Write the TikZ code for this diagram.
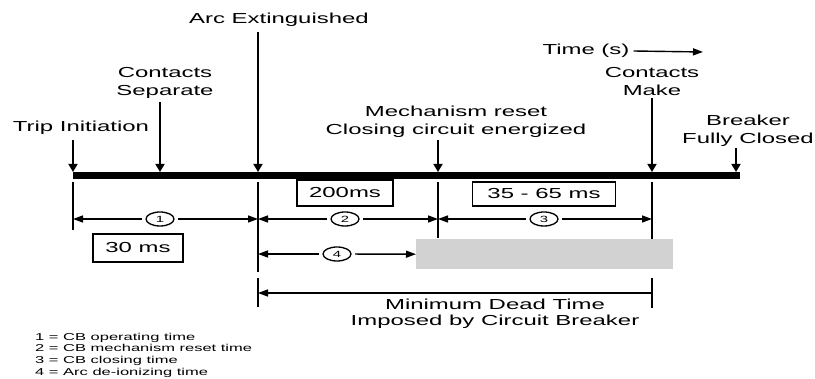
\documentclass[tikz,border=0pt]{standalone}
\usepackage{fontspec}
\setmainfont{Liberation Sans}[FakeStretch=1.65]
\usetikzlibrary{arrows.meta,shapes.geometric}
\definecolor{deadgray}{RGB}{210,210,210}

\begin{document}
\begin{tikzpicture}[
      x=1pt, y=-1pt,
      every node/.style={font=\fontsize{14.5}{18}\selectfont, inner sep=0pt},
      label/.style={align=center},
      event/.style={-{Triangle[width=9pt,length=8pt]}, line width=1.6pt},
      tick/.style={line width=1.6pt},
      dim/.style={-{Triangle[width=7pt,length=10pt]}, line width=1.4pt},
      num/.style={ellipse, draw, line width=1.3pt, minimum width=28pt, minimum height=14pt, outer sep=4pt, font=\fontsize{9}{10}\selectfont},
      msbox/.style={draw, line width=1.5pt, minimum height=26pt},
      timebar/.style={line width=7pt}
    ]
    \useasboundingbox (0,0) rectangle (815,379);

    % Event labels above the time bar
    \node[label] (trip) at (81,128) {Trip Initiation};
    \node[label] (sep) at (165,83) {Contacts\\Separate};
    \node[label] (arc) at (279,20) {Arc Extinguished};
    \node[label] (mech) at (456,122) {Mechanism reset\\Closing circuit energized};
    \node[label] (make) at (652,82) {Contacts\\Make};
    \node[label] (full) at (748,131) {Breaker\\Fully Closed};

    % Time direction
    \node (time) at (586,51) {Time (s)};
    \coordinate (timeEnd) at (703,52);
    \draw[dim] ([xshift=4pt]time.east) -- (timeEnd);

    % Time bar and event arrows
    \coordinate (barL) at (73,176);
    \coordinate (barR) at (740,176);
    \draw[timebar] (barL) -- (barR);
    \foreach \n/\x/\t in {trip/73/140, sep/160/102, arc/258/32, mech/438/140, make/652/98, full/736/148} {
      \coordinate (\n top) at (\x,\t);
      \coordinate (\n bar) at (\x,172);
      \draw[event] (\n top) -- (\n bar);
    }

    % Extension lines below the bar
    \foreach \x/\a/\b in {73/182/230, 258/182/272, 438/182/238, 652/182/239, 258/278/307, 652/278/308} {
      \draw[tick] (\x,\a) -- (\x,\b);
    }

    % Durations
    \node[msbox, minimum width=90pt, minimum height=28pt] (t1) at (138,248) {30 ms};
    \node[msbox, minimum width=96pt] (t2) at (345,193) {200ms};
    \node[msbox, minimum width=143pt, minimum height=24pt] (t3) at (544,194) {35 - 65 ms};

    % Arc de-ionizing region
    \node[fill=deadgray, minimum width=257pt, minimum height=30pt, anchor=north west] (gray) at (416,239) {};

    % Dimension arrows
    \node[num] (n1) at (160,219) {1};
    \node[num] (n2) at (345,219) {2};
    \node[num] (n3) at (544,219) {3};
    \node[num] (n4) at (337,254) {4};
    \coordinate (d1a) at (73,219);
    \coordinate (d1b) at (258,219);
    \coordinate (d2b) at (438,219);
    \coordinate (d3b) at (652,219);
    \coordinate (d4a) at (258,254);
    \draw[dim] (n1) -- (d1a);
    \draw[dim] (n1) -- (d1b);
    \draw[dim] (n2) -- (d1b);
    \draw[dim] (n2) -- (d2b);
    \draw[dim] (n3) -- (d2b);
    \draw[dim] (n3) -- (d3b);
    \draw[dim] (n4) -- (d4a);
    \draw[dim] (n4) -- (gray.west);

    % Minimum dead time
    \coordinate (dtL) at (258,293);
    \coordinate (dtR) at (652,293);
    \draw[dim, {Triangle[width=7pt,length=10pt]}-] (dtL) -- (dtR);
    \node[label, font=\fontsize{14.5}{15.5}\selectfont] (dead) at (495,314) {Minimum Dead Time\\Imposed by Circuit Breaker};

    % Legend
    \node[anchor=west, align=left, font=\fontsize{10}{11.7}\selectfont] (legend) at (35,355) {1 = CB operating time\\2 = CB mechanism reset time\\3 = CB closing time\\4 = Arc de-ionizing time};

  \end{tikzpicture}
\end{document}
